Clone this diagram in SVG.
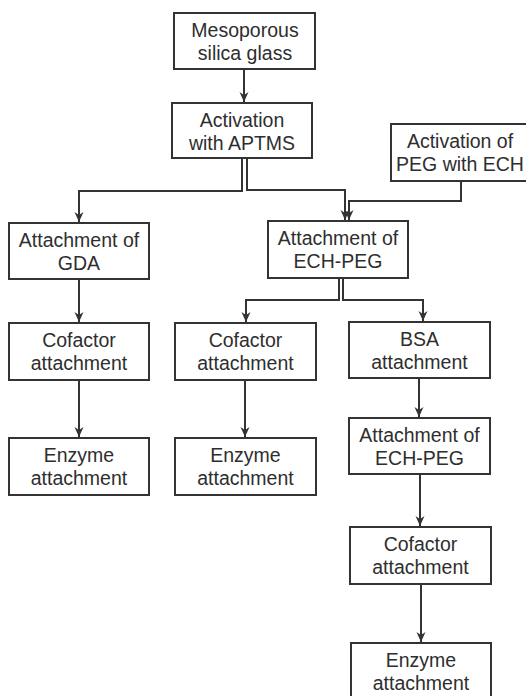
<svg xmlns="http://www.w3.org/2000/svg" width="526" height="696" viewBox="0 0 526 696">
<style>
  .box rect { fill: #ffffff; stroke: #333333; stroke-width: 2; }
  .box text { font-family: "Liberation Sans", Arial, sans-serif; font-size: 19.5px; fill: #2e2e2e; text-anchor: middle; }
  .conn path { fill: none; stroke: #333333; stroke-width: 2; marker-end: url(#arr); }
</style>
<defs>
  <marker id="arr" markerUnits="userSpaceOnUse" markerWidth="10" markerHeight="10" refX="10" refY="5" orient="auto" viewBox="0 0 10 10">
    <path d="M0,0.5 L10,5 L0,9.5 L3,5 Z" fill="#333333"/>
  </marker>
</defs>
<rect width="526" height="696" fill="#ffffff"/>
<g id="connectors" class="conn">
  <path d="M244,69 V102"/>
  <path d="M242,158 V191 H79 V222"/>
  <path d="M247,158 V190 H345 V220"/>
  <path d="M461,181 V201 H349 V220"/>
  <path d="M339,278 V300 H246 V322"/>
  <path d="M343,278 V300 H423 V321"/>
  <path d="M419,378 V417"/>
  <path d="M420,474 V526"/>
  <path d="M421,584 V642"/>
  <path d="M79,279 V322"/>
  <path d="M79,380 V437"/>
  <path d="M245,380 V437"/>
</g>
<g id="n1" class="box"><rect x="174" y="13" width="141" height="56"/><text x="245" y="36.5">Mesoporous</text><text x="245" y="59.5">silica glass</text></g>
<g id="n2" class="box"><rect x="172" y="103" width="140" height="55"/><text x="242" y="126.5">Activation</text><text x="242" y="149.5">with APTMS</text></g>
<g id="n3" class="box"><rect x="391" y="124" width="140" height="57"/><text x="460" y="147.5">Activation of</text><text x="460" y="170.5">PEG with ECH</text></g>
<g id="n4" class="box"><rect x="9" y="223" width="140" height="56"/><text x="79" y="246.5">Attachment of</text><text x="79" y="269.5">GDA</text></g>
<g id="n5" class="box"><rect x="268" y="221" width="140" height="57"/><text x="338" y="244.5">Attachment of</text><text x="338" y="267.5">ECH-PEG</text></g>
<g id="n6" class="box"><rect x="9" y="323" width="140" height="57"/><text x="79" y="346.5">Cofactor</text><text x="79" y="369.5">attachment</text></g>
<g id="n7" class="box"><rect x="9" y="438" width="140" height="57"/><text x="79" y="461.5">Enzyme</text><text x="79" y="484.5">attachment</text></g>
<g id="n8" class="box"><rect x="175" y="323" width="141" height="57"/><text x="245.5" y="346.5">Cofactor</text><text x="245.5" y="369.5">attachment</text></g>
<g id="n9" class="box"><rect x="175" y="438" width="141" height="57"/><text x="245.5" y="461.5">Enzyme</text><text x="245.5" y="484.5">attachment</text></g>
<g id="n10" class="box"><rect x="349" y="322" width="141" height="56"/><text x="419.5" y="345.5">BSA</text><text x="419.5" y="368.5">attachment</text></g>
<g id="n11" class="box"><rect x="349" y="418" width="141" height="56"/><text x="419.5" y="441.5">Attachment of</text><text x="419.5" y="464.5">ECH-PEG</text></g>
<g id="n12" class="box"><rect x="350" y="527" width="141" height="57"/><text x="420.5" y="550.5">Cofactor</text><text x="420.5" y="573.5">attachment</text></g>
<g id="n13" class="box"><rect x="351" y="643" width="140" height="60"/><text x="421" y="666.5">Enzyme</text><text x="421" y="689.5">attachment</text></g>
</svg>
